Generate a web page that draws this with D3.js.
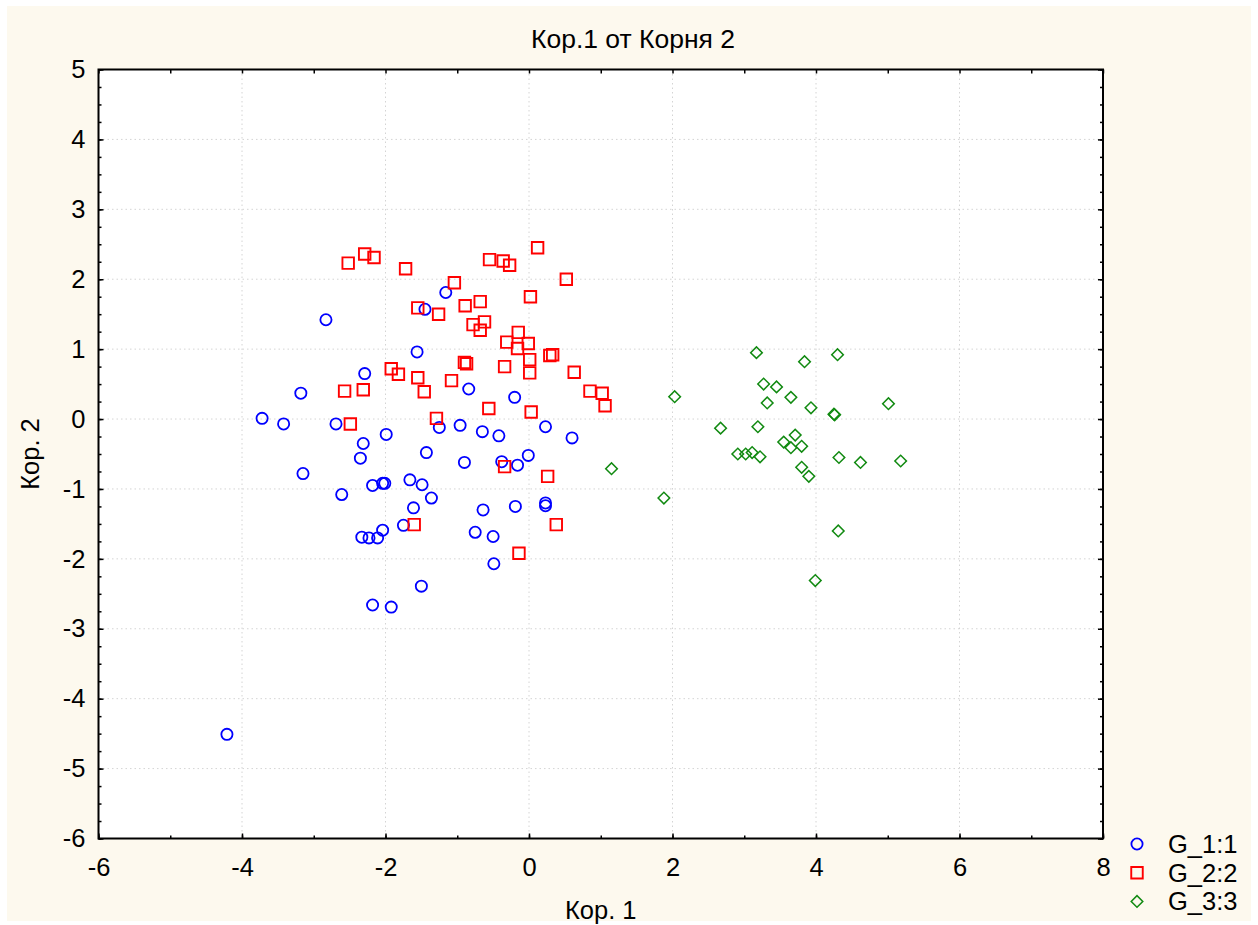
<!DOCTYPE html>
<html lang="ru">
<head>
  <meta charset="UTF-8">
  <title>Кор.1 от Корня 2</title>
  <script src="https://d3js.org/d3.v7.min.js"></script>
  <style>
    body { margin: 0; background: #fff; }
    svg text { font-family: "Liberation Sans", Arial, sans-serif; fill: #000; }
    .grid line { stroke: #d4d4d4; stroke-width: 1; stroke-dasharray: 1.5 3; }
    .axis path { display: none; }
    .axis line { stroke: #000; stroke-width: 1.5; }
    .axis text { font-size: 25.5px; }
  </style>
</head>
<body>
  <div id="chart"></div>
  <script>
    // группа G_1:1 (синие круги)
    const g1X = [-4.21, -3.72, -3.42, -3.18, -3.15, -2.83, -2.69, -2.61, -2.35, -2.31,
                 -2.29, -2.33, -2.23, -2.11, -2.18, -2.18, -2.04, -2.01, -1.99, -2.04,
                 -1.92, -1.75, -1.66, -1.61, -1.56, -1.50, -1.49, -1.45, -1.43, -1.36,
                 -1.25, -1.16, -0.96, -0.90, -0.84, -0.75, -0.65, -0.64, -0.50, -0.49,
                 -0.42, -0.38, -0.20, -0.19, -0.16, -0.01, 0.23, 0.23, 0.23, 0.60];
    const g1Y = [-4.51, 0.01, -0.07, 0.37, -0.78, 1.42, -0.07, -1.08, -0.56, -0.35,
                 0.65, -1.69, -1.70, -1.70, -0.95, -2.66, -0.92, -0.92, -0.22, -1.59,
                 -2.69, -1.52, -0.87, -1.27, 0.96, -2.39, -0.94, 1.57, -0.48, -1.13,
                 -0.12, 1.81, -0.09, -0.62, 0.43, -1.62, -0.18, -1.30, -1.68, -2.07,
                 -0.24, -0.61, 0.31, -1.25, -0.66, -0.52, -0.11, -1.20, -1.24, -0.27];

    // группа G_2:2 (красные квадраты)
    const g2X = [-2.52, -2.29, -2.16, -1.72, -1.55, -1.26, -1.04, -0.89, -0.68, -0.55,
                 -0.36, -0.27, 0.12, 0.52, 0.02, -0.62, -0.78, -0.68, -0.15, -0.31,
                 -0.01, -0.16, 0.29, 0.33, 0.01, -0.90, -0.87, -0.34, 0.01, 0.63,
                 -1.92, -1.82, -1.55, -1.08, -1.46, -2.57, -2.31, 0.85, 1.02, 1.06,
                 -0.56, 0.03, -1.29, -2.49, -0.34, 0.26, -1.60, 0.38, -0.14];
    const g2Y = [2.23, 2.36, 2.31, 2.15, 1.59, 1.50, 1.95, 1.62, 1.68, 2.28,
                 2.26, 2.20, 2.45, 2.00, 1.75, 1.39, 1.35, 1.27, 1.24, 1.10,
                 1.08, 1.01, 0.91, 0.92, 0.85, 0.81, 0.79, 0.75, 0.66, 0.67,
                 0.72, 0.64, 0.59, 0.55, 0.39, 0.40, 0.42, 0.40, 0.37, 0.19,
                 0.15, 0.10, 0.01, -0.07, -0.68, -0.82, -1.51, -1.51, -1.92];

    // группа G_3:3 (зелёные ромбы)
    const g3X = [3.17, 4.30, 3.84, 3.27, 3.45, 2.03, 3.32, 3.65, 3.93, 5.01,
                 4.25, 4.26, 2.67, 3.19, 3.71, 3.55, 3.65, 3.80, 2.91, 3.02,
                 3.11, 3.22, 4.32, 4.62, 5.18, 1.15, 3.80, 3.90, 1.88, 4.31, 3.99];
    const g3Y = [0.95, 0.92, 0.82, 0.50, 0.46, 0.32, 0.23, 0.31, 0.16, 0.22,
                 0.07, 0.06, -0.13, -0.11, -0.23, -0.33, -0.41, -0.39, -0.50, -0.50,
                 -0.48, -0.54, -0.55, -0.62, -0.60, -0.71, -0.69, -0.82, -1.13, -1.60, -2.31];

    const groupNames = ["G_1:1", "G_2:2", "G_3:3"];
    const xTicks = [-6, -4, -2, 0, 2, 4, 6, 8];
    const yTicks = [-6, -5, -4, -3, -2, -1, 0, 1, 2, 3, 4, 5];

    const width = 1258, height = 925;
    const plot = { left: 98.5, right: 1103, top: 69.5, bottom: 838.5 };
    const fontSize = "25.5px";

    const svg = d3.select("#chart").append("svg")
      .attr("width", width)
      .attr("height", height);

    // фон панели
    svg.append("rect")
      .attr("x", 7).attr("y", 6)
      .attr("width", 1244).attr("height", 915)
      .attr("fill", "#fdf9ee");

    svg.append("rect")
      .attr("x", plot.left).attr("y", plot.top)
      .attr("width", plot.right - plot.left)
      .attr("height", plot.bottom - plot.top)
      .attr("fill", "#fff");

    const x = d3.scaleLinear().domain([-6, 8]).range([plot.left, plot.right]);
    const y = d3.scaleLinear().domain([-6, 5]).range([plot.bottom, plot.top]);

    // сетка
    const grid = svg.append("g").attr("class", "grid");
    grid.selectAll(".gx").data(xTicks.slice(1, -1)).enter().append("line")
      .attr("x1", d => x(d)).attr("x2", d => x(d))
      .attr("y1", plot.top).attr("y2", plot.bottom);
    grid.selectAll(".gy").data(yTicks.slice(1, -1)).enter().append("line")
      .attr("x1", plot.left).attr("x2", plot.right)
      .attr("y1", d => y(d)).attr("y2", d => y(d));

    // оси: основные деления с подписями и мелкие без подписей
    const xMinor = d3.range(-6, 8.01, 1);
    const yMinor = d3.range(-6, 5.01, 0.25);
    const plain = d => String(d);   // обычный дефис вместо U+2212

    svg.append("g").attr("class", "axis")
      .attr("transform", `translate(0,${plot.bottom})`)
      .call(d3.axisBottom(x).tickValues(xTicks).tickSize(-5).tickPadding(19).tickFormat(plain));
    svg.append("g").attr("class", "axis")
      .attr("transform", `translate(0,${plot.bottom})`)
      .call(d3.axisBottom(x).tickValues(xMinor).tickSize(-3).tickFormat(""));
    svg.append("g").attr("class", "axis")
      .attr("transform", `translate(0,${plot.top})`)
      .call(d3.axisTop(x).tickValues(xMinor).tickSize(-4).tickFormat(""));

    svg.append("g").attr("class", "axis")
      .attr("transform", `translate(${plot.left},0)`)
      .call(d3.axisLeft(y).tickValues(yTicks).tickSize(-5).tickPadding(13).tickFormat(plain));
    svg.append("g").attr("class", "axis")
      .attr("transform", `translate(${plot.left},0)`)
      .call(d3.axisLeft(y).tickValues(yMinor).tickSize(-3).tickFormat(""));
    svg.append("g").attr("class", "axis")
      .attr("transform", `translate(${plot.right},0)`)
      .call(d3.axisRight(y).tickValues(yTicks).tickSize(-5).tickFormat(""));
    svg.append("g").attr("class", "axis")
      .attr("transform", `translate(${plot.right},0)`)
      .call(d3.axisRight(y).tickValues(yMinor).tickSize(-3).tickFormat(""));

    // рамка
    svg.append("rect")
      .attr("x", plot.left).attr("y", plot.top)
      .attr("width", plot.right - plot.left)
      .attr("height", plot.bottom - plot.top)
      .attr("fill", "none")
      .attr("stroke", "#000")
      .attr("stroke-width", 2);

    // маркеры
    const colors = ["#0000ff", "#ff0000", "#118a11"];
    const symbols = [
      d3.symbol().type(d3.symbolCircle).size(Math.PI * 5.6 * 5.6),
      d3.symbol().type(d3.symbolSquare).size(11.5 * 11.5),
      d3.symbol().type(d3.symbolSquare).size(8.2 * 8.2)
    ];
    const rotation = [0, 0, 45];
    const strokeW = [1.8, 1.9, 1.5];
    const groups = [
      g1X.map((v, i) => ({ x: v, y: g1Y[i] })),
      g2X.map((v, i) => ({ x: v, y: g2Y[i] })),
      g3X.map((v, i) => ({ x: v, y: g3Y[i] }))
    ];

    groups.forEach((pts, gi) => {
      svg.append("g").selectAll("path").data(pts).enter().append("path")
        .attr("d", symbols[gi])
        .attr("transform", d => `translate(${x(d.x)},${y(d.y)}) rotate(${rotation[gi]})`)
        .attr("fill", "none")
        .attr("stroke", colors[gi])
        .attr("stroke-width", strokeW[gi]);
    });

    // заголовок и подписи осей
    svg.append("text")
      .attr("x", 633).attr("y", 48)
      .attr("text-anchor", "middle")
      .style("font-size", "26.5px")
      .text("Кор.1 от Корня 2");

    svg.append("text")
      .attr("x", (plot.left + plot.right) / 2).attr("y", 919)
      .attr("text-anchor", "middle")
      .style("font-size", fontSize)
      .text("Кор. 1");

    svg.append("text")
      .attr("transform", `translate(39,${(plot.top + plot.bottom) / 2}) rotate(-90)`)
      .attr("text-anchor", "middle")
      .style("font-size", fontSize)
      .text("Кор. 2");

    // легенда
    const legend = svg.append("g").attr("transform", "translate(1137,844)");
    groupNames.forEach((name, gi) => {
      const row = legend.append("g").attr("transform", `translate(0,${gi * 28.7})`);
      row.append("path")
        .attr("d", symbols[gi])
        .attr("transform", `rotate(${rotation[gi]})`)
        .attr("fill", "none")
        .attr("stroke", colors[gi])
        .attr("stroke-width", strokeW[gi]);
      row.append("text")
        .attr("x", 31).attr("y", 9)
        .style("font-size", fontSize)
        .text(name);
    });
  </script>
</body>
</html>
